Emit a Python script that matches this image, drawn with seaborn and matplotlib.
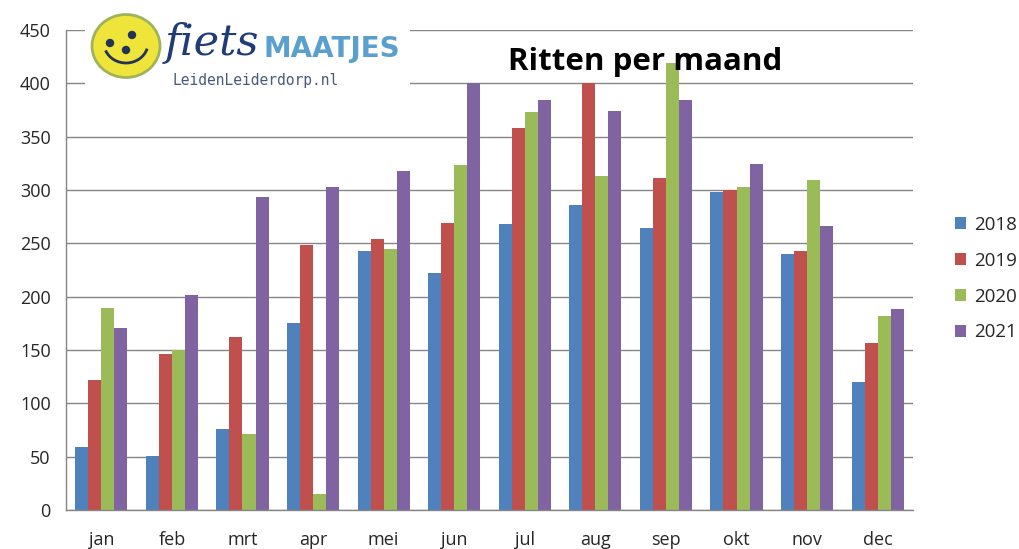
import numpy as np
import pandas as pd
import seaborn as sns
import matplotlib.pyplot as plt
from matplotlib.patches import Ellipse, Arc, Circle

# Data
months = ["jan", "feb", "mrt", "apr", "mei", "jun", "jul", "aug", "sep", "okt", "nov", "dec"]
years = ["2018", "2019", "2020", "2021"]
rides_2018 = [59, 51, 76, 175, 243, 222, 268, 286, 264, 298, 240, 120]
rides_2019 = [122, 146, 162, 248, 254, 269, 358, 400, 311, 300, 243, 157]
rides_2020 = [189, 150, 71, 15, 245, 323, 373, 313, 419, 303, 309, 182]
rides_2021 = [171, 202, 293, 303, 318, 400, 384, 374, 384, 324, 266, 188]
yticks = [0, 50, 100, 150, 200, 250, 300, 350, 400, 450]

colors = ["#4F81BD", "#C0504D", "#9BBB59", "#8064A2"]
gray = "#868686"

df = pd.DataFrame({
    "maand": months * 4,
    "jaar": np.repeat(years, len(months)),
    "ritten": rides_2018 + rides_2019 + rides_2020 + rides_2021,
})

sns.set_style("white")
plt.rcParams["font.family"] = ["Open Sans", "DejaVu Sans"]

W, H = 1019, 549
fig = plt.figure(figsize=(W / 100, H / 100), dpi=100)
ax = fig.add_axes([66 / W, (H - 510) / H, (913 - 66) / W, 480 / H])

sns.barplot(data=df, x="maand", y="ritten", hue="jaar", palette=colors,
            width=0.74, saturation=1, errorbar=None, linewidth=0, ax=ax)

ax.set_ylim(0, 450)
ax.set_yticks(yticks)
ax.set_xlim(-0.5, len(months) - 0.5)
ax.set_xlabel("")
ax.set_ylabel("")
ax.yaxis.grid(True, color=gray, linewidth=1)
ax.set_axisbelow(True)
for side in ["top", "right"]:
    ax.spines[side].set_visible(False)
for side in ["left", "bottom"]:
    ax.spines[side].set_color(gray)
    ax.spines[side].set_linewidth(1)

ax.tick_params(axis="y", length=7, color=gray, labelsize=13, pad=4)
ax.tick_params(axis="x", which="major", length=0, labelsize=13, pad=15)
ax.set_xticks(np.arange(-0.5, len(months)), minor=True)
ax.tick_params(axis="x", which="minor", length=7, color=gray, direction="out")

ax.legend_.remove()
handles, labels = ax.get_legend_handles_labels()
fig.legend(handles, labels, loc="upper left", bbox_to_anchor=(955 / W, (H - 216) / H),
           frameon=False, fontsize=13.5, handlelength=0.6, handleheight=0.6,
           handletextpad=0.4, labelspacing=0.95, borderpad=0, borderaxespad=0)

fig.text(645 / W, (H - 62) / H, "Ritten per maand", ha="center", va="center",
         fontsize=22.5, fontweight="bold", color="black")

# Logo (approximation)
lax = fig.add_axes([85 / W, (H - 95) / H, 325 / W, 87 / H])
lax.set_xlim(0, 325)
lax.set_ylim(0, 87)
lax.set_facecolor("white")
lax.set_xticks([])
lax.set_yticks([])
for s in lax.spines.values():
    s.set_visible(False)
lax.add_patch(Ellipse((41, 49), 68, 63, facecolor="#EFE43A", edgecolor="#9FB45A", linewidth=2))
for cx, cy in [(25, 52), (47, 60), (41, 45)]:
    lax.add_patch(Circle((cx, cy), 3.5, color="#22335A"))
lax.add_patch(Arc((41, 52), 44, 40, theta1=200, theta2=345, color="#22335A", linewidth=2))
lax.text(80, 52, "fiets", fontsize=31, style="italic", family="DejaVu Serif",
         color="#1F3C78", va="center", ha="left")
lax.text(178, 46, "MAATJES", fontsize=20, fontweight="bold", family="DejaVu Sans",
         color="#5AA0CF", va="center", ha="left")
lax.text(88, 14, "LeidenLeiderdorp.nl", fontsize=10.5, family="DejaVu Sans Mono",
         color="#4A5A7A", va="center", ha="left")

fig.savefig("out.png", dpi=100)
